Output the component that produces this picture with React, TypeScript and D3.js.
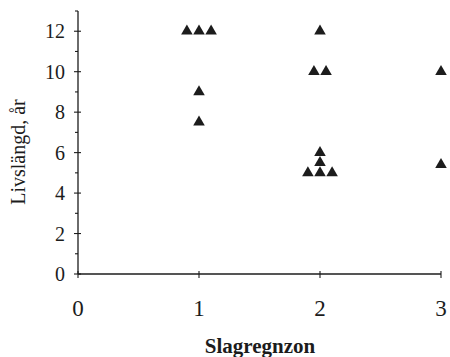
import React, { useEffect, useRef } from "react";
import * as d3 from "d3";

// Slagregnzon (x) and livslängd i år (y)
const zones = [0.9, 1.0, 1.1, 1.0, 1.0, 2.0, 1.95, 2.05, 2.0, 2.0, 1.9, 2.0, 2.1, 3.0, 3.0];
const lifetimes = [12, 12, 12, 9, 7.5, 12, 10, 10, 6, 5.5, 5, 5, 5, 10, 5.4];

const xTicks = [0, 1, 2, 3];
const yTicks = [0, 2, 4, 6, 8, 10, 12];
const yMinorTicks = [1, 3, 5, 7, 9, 11, 13];

const xTitle = "Slagregnzon";
const yTitle = "Livslängd, år";

const App = () => {
  const svgRef = useRef<SVGSVGElement>(null);

  useEffect(() => {
    const svg = d3.select(svgRef.current);
    svg.selectAll("*").remove();

    const x = d3.scaleLinear().domain([0, 3]).range([78, 441]);
    const y = d3.scaleLinear().domain([0, 13]).range([274, 11]);
    const ink = "#1c1c1c";
    const font = "'Liberation Serif', 'DejaVu Serif', serif";

    svg.append("rect").attr("width", 450).attr("height", 357).attr("fill", "#fff");

    // axes lines
    svg.append("line")
      .attr("x1", x(0)).attr("x2", x(3))
      .attr("y1", y(0)).attr("y2", y(0))
      .attr("stroke", ink).attr("stroke-width", 1.3);
    svg.append("line")
      .attr("x1", x(0)).attr("x2", x(0))
      .attr("y1", y(0)).attr("y2", y(13))
      .attr("stroke", ink).attr("stroke-width", 1.3);

    // y ticks
    svg.selectAll(".ytick")
      .data(yTicks)
      .join("line")
      .attr("x1", x(0) - 4).attr("x2", x(0) + 3)
      .attr("y1", d => y(d)).attr("y2", d => y(d))
      .attr("stroke", ink).attr("stroke-width", 1.1);
    svg.selectAll(".yminor")
      .data(yMinorTicks)
      .join("line")
      .attr("x1", x(0) - 3).attr("x2", x(0))
      .attr("y1", d => y(d)).attr("y2", d => y(d))
      .attr("stroke", ink).attr("stroke-width", 1.1);
    svg.selectAll(".ylabel")
      .data(yTicks)
      .join("text")
      .attr("x", 65)
      .attr("y", d => y(d))
      .attr("dy", "0.35em")
      .attr("text-anchor", "end")
      .attr("font-family", font)
      .attr("font-size", 20)
      .attr("fill", ink)
      .text(d => d);

    // x ticks
    svg.selectAll(".xtick")
      .data(xTicks)
      .join("line")
      .attr("x1", d => x(d)).attr("x2", d => x(d))
      .attr("y1", y(0) - 3).attr("y2", y(0) + 4)
      .attr("stroke", ink).attr("stroke-width", 1.1);
    svg.selectAll(".xlabel")
      .data(xTicks)
      .join("text")
      .attr("x", d => x(d))
      .attr("y", 308)
      .attr("dy", "0.35em")
      .attr("text-anchor", "middle")
      .attr("font-family", font)
      .attr("font-size", 23)
      .attr("fill", ink)
      .text(d => d);

    // titles
    svg.append("text")
      .attr("x", 260).attr("y", 353)
      .attr("text-anchor", "middle")
      .attr("font-family", font)
      .attr("font-weight", "bold")
      .attr("font-size", 21)
      .attr("fill", ink)
      .text(xTitle);
    svg.append("text")
      .attr("transform", "translate(25,152) rotate(-90)")
      .attr("text-anchor", "middle")
      .attr("font-family", font)
      .attr("font-size", 20)
      .attr("fill", ink)
      .text(yTitle);

    // points
    const tri = d3.symbol().type(d3.symbolTriangle).size(58);
    svg.selectAll(".pt")
      .data(zones.map((z, i) => [z, lifetimes[i]]))
      .join("path")
      .attr("d", tri)
      .attr("transform", d => `translate(${x(d[0])},${y(d[1])})`)
      .attr("fill", ink);
  }, []);

  return (
    <svg
      ref={svgRef}
      width={450}
      height={357}
      style={{ position: "absolute", left: 0, top: 0 }}
    ></svg>
  );
};

export default App;
